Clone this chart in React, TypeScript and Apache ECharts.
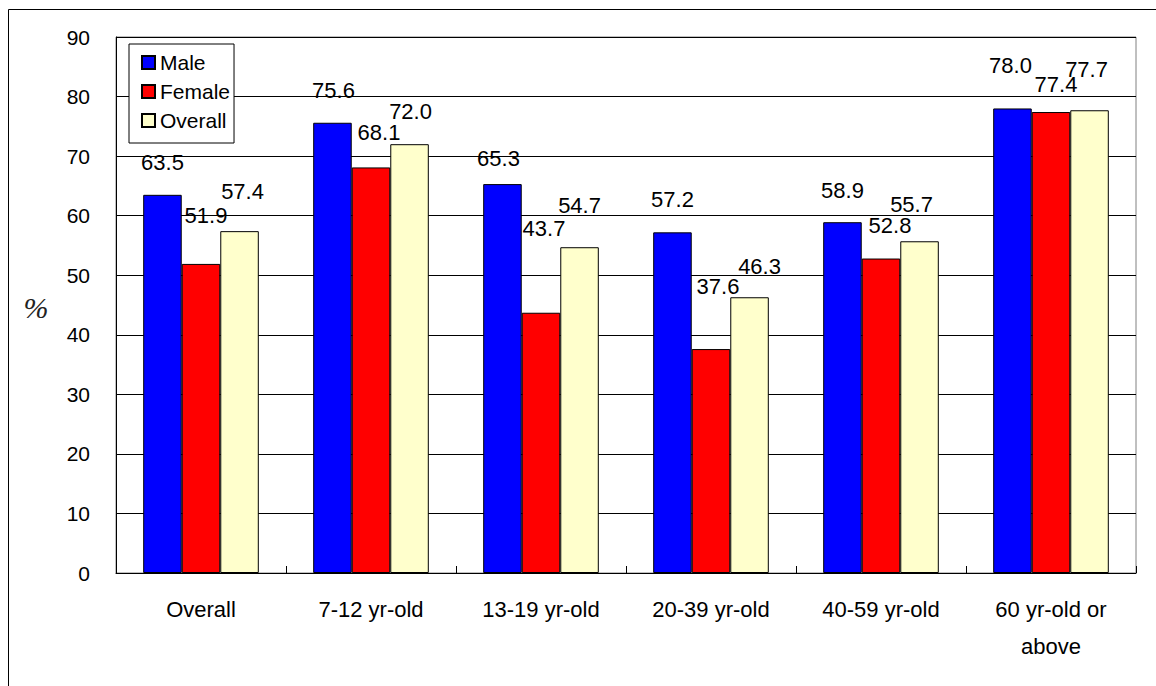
import React, { useEffect, useRef } from "react";
import * as echarts from "echarts";

const categories = [
  "Overall",
  "7-12 yr-old",
  "13-19 yr-old",
  "20-39 yr-old",
  "40-59 yr-old",
  "60 yr-old or\nabove",
];
const seriesNames = ["Male", "Female", "Overall"];
const maleValues = [63.5, 75.6, 65.3, 57.2, 58.9, 78.0];
const femaleValues = [51.9, 68.1, 43.7, 37.6, 52.8, 77.4];
const overallValues = [57.4, 72.0, 54.7, 46.3, 55.7, 77.7];
const yTicks = { min: 0, max: 90, interval: 10 };

// label placement (style only): gap from bar top to label centre, and x shift
const maleLabelGap = [32, 32, 25.5, 32.5, 32, 43];
const femaleLabelGap = [48.6, 35, 84, 63, 33, 28];
const overallLabelGap = [40, 32.5, 41.5, 31, 36.7, 40.5];
const maleLabelDx = [0, 1, -4, 0, 0, -2];
const femaleLabelDx = [5, 8, 3, 7, 9, 5];
const overallLabelDx = [3, 1, 0, 10, -8, -3];

const colors = ["#0000FF", "#FF0000", "#FFFFCC"];
const FONT = '"Liberation Sans", Arial, sans-serif';

export default function App() {
  const ref = useRef<HTMLDivElement>(null);

  useEffect(() => {
    if (!ref.current) return;
    const chart = echarts.init(ref.current, undefined, { renderer: "svg" });

    const mk = (
      name: string,
      values: number[],
      gaps: number[],
      dxs: number[],
      color: string
    ) => ({
      name,
      type: "bar",
      barGap: "0%",
      barCategoryGap: "32%",
      itemStyle: { color, borderColor: "#000", borderWidth: 1 },
      label: {
        show: true,
        position: "top",
        color: "#000",
        fontFamily: FONT,
        fontSize: 22,
        formatter: (p: any) => Number(p.value).toFixed(1),
      },
      data: values.map((v, i) => ({
        value: v,
        label: { distance: gaps[i] - 11, offset: [dxs[i], 0] },
      })),
    });

    chart.setOption({
      animation: false,
      backgroundColor: "#fff",
      textStyle: { fontFamily: FONT },
      grid: {
        left: 116,
        top: 37,
        right: 20,
        bottom: 113,
        show: true,
        borderColor: "#808080",
        borderWidth: 1,
        backgroundColor: "transparent",
      },
      legend: {
        orient: "vertical",
        left: 129,
        top: 44,
        padding: [8, 4, 12, 12],
        itemGap: 8,
        itemWidth: 13,
        itemHeight: 13,
        backgroundColor: "#fff",
        borderColor: "#000",
        borderWidth: 1,
        borderRadius: 0,
        icon: "rect",
        textStyle: { color: "#000", fontSize: 21, fontFamily: FONT },
        data: seriesNames,
      },
      xAxis: {
        type: "category",
        data: categories,
        axisLine: { show: true, lineStyle: { color: "#000", width: 1 } },
        axisTick: {
          show: true,
          inside: true,
          length: 7,
          lineStyle: { color: "#000" },
        },
        axisLabel: {
          color: "#000",
          fontSize: 22,
          fontFamily: FONT,
          margin: 18,
          lineHeight: 37,
          interval: 0,
        },
        splitLine: { show: false },
      },
      yAxis: {
        type: "value",
        min: yTicks.min,
        max: yTicks.max,
        interval: yTicks.interval,
        axisLine: { show: true, lineStyle: { color: "#000", width: 1 } },
        axisTick: {
          show: true,
          inside: true,
          length: 7,
          lineStyle: { color: "#000" },
        },
        axisLabel: {
          color: "#000",
          fontSize: 21,
          fontFamily: FONT,
          margin: 26,
        },
        splitLine: { show: true, lineStyle: { color: "#000", width: 1 } },
      },
      graphic: [
        {
          type: "rect",
          shape: { x: 8.5, y: 9.5, width: 2000, height: 2000 },
          style: { fill: "none", stroke: "#000", lineWidth: 1 },
          silent: true,
          z: -10,
        },
        {
          type: "text",
          x: 36,
          y: 307,
          style: {
            text: "%",
            fill: "#222",
            fontSize: 30,
            fontFamily: '"Liberation Serif", serif',
            fontStyle: "italic",
            textAlign: "center",
            textVerticalAlign: "middle",
            verticalAlign: "middle",
          },
          silent: true,
        },
      ],
      series: [
        mk(seriesNames[0], maleValues, maleLabelGap, maleLabelDx, colors[0]),
        mk(seriesNames[1], femaleValues, femaleLabelGap, femaleLabelDx, colors[1]),
        mk(seriesNames[2], overallValues, overallLabelGap, overallLabelDx, colors[2]),
      ],
    });

    return () => chart.dispose();
  }, []);

  return (
    <div
      ref={ref}
      style={{ position: "fixed", left: 0, top: 0, width: 1156, height: 686 }}
    />
  );
}
